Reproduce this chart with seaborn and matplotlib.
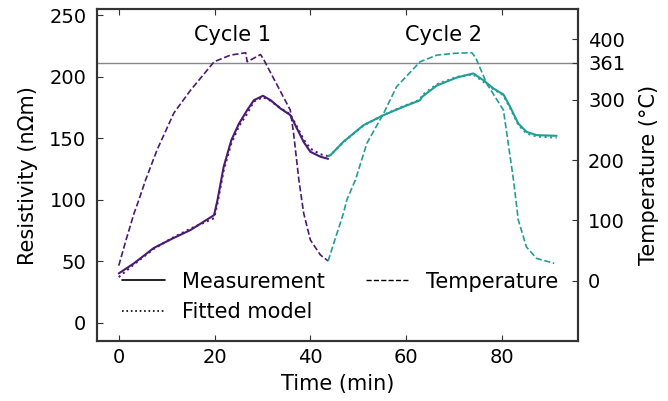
import numpy as np
import pandas as pd
import matplotlib
matplotlib.use("Agg")
import matplotlib.pyplot as plt
from matplotlib.lines import Line2D
import seaborn as sns

# cycle 1 (purple)
c1_t_meas = [0, 3.2, 7.3, 11, 15, 19.9, 20.6, 21.9, 23.5, 25.1, 26.8, 28.2, 30.1, 31.7, 33.75, 35.8, 37.2, 38.6, 40, 42.1, 43.7]
c1_r_meas = [40, 48.3, 60.7, 68, 75.4, 87.5, 99.6, 126.8, 148.5, 162, 172.9, 181, 184.6, 181, 174.3, 168.9, 158, 147, 139, 135, 133.3]
c1_r_fit = [37, 47.5, 60, 68.5, 76.5, 85, 97, 124, 146, 160, 170, 180, 183.5, 180.5, 174.5, 169.5, 159.5, 149, 141.5, 137, 135.5]
c1_t_temp = [0, 1.5, 3.2, 4.2, 5.6, 8, 11.5, 15, 19.9, 23.3, 26.5, 26.8, 29.6, 30.3, 35.8, 36.5, 37.6, 38.6, 40, 42.1, 43.7]
c1_temp = [25, 67, 112, 134, 167, 217, 278, 316, 363, 374, 378, 363, 375, 366, 283, 244, 167, 112, 67.5, 42.6, 32.7]

# cycle 2 (teal)
c2_t_meas = [43.7, 44.2, 46.9, 51.1, 55.3, 59, 62.9, 63.3, 66.4, 70.6, 74, 76.1, 78.2, 80.3, 81.7, 83.4, 85.1, 87.2, 91.4]
c2_r_meas = [135.5, 136.3, 147.2, 160.7, 168.9, 175, 181, 183.7, 193, 199.5, 202.8, 197.3, 190.6, 185.7, 175.6, 162, 155.3, 152.6, 152]
c2_r_fit = [135.5, 136.5, 147, 160.5, 169, 175.5, 181.5, 185, 194, 200, 202, 196, 190, 185, 174.5, 161, 154, 151.5, 150.5]
c2_t_temp = [43.7, 45, 46.9, 47.6, 49.4, 51.8, 55.3, 58, 62.9, 66.4, 70, 73.7, 74.5, 76.8, 80.3, 82.4, 83.4, 85.1, 87.2, 90.9]
c2_temp = [32.7, 65, 111.7, 134, 167, 228, 277.6, 321.7, 363, 374, 377, 378, 370, 327, 283, 167, 100.7, 56, 37, 28.8]

T_REF = 361
COR1 = "#4b1a72"
COR2 = "#1f9e96"
FS = 15

sns.set_style("ticks")
plt.rcParams["font.family"] = ["DejaVu Sans"]
plt.rcParams["font.size"] = FS
plt.rcParams["text.color"] = "black"
plt.rcParams["axes.labelcolor"] = "black"
plt.rcParams["xtick.labelcolor"] = "black"
plt.rcParams["ytick.labelcolor"] = "black"

fig = plt.figure(figsize=(6.68, 4.01), dpi=100)
ax = fig.add_axes([0.1448, 0.1496, 0.72, 0.8272])
ax2 = ax.twinx()

ax2.axhline(T_REF, color="#888888", lw=1, zorder=0)

for t, rm, rf, tt, temp, cor in [
    (c1_t_meas, c1_r_meas, c1_r_fit, c1_t_temp, c1_temp, COR1),
    (c2_t_meas, c2_r_meas, c2_r_fit, c2_t_temp, c2_temp, COR2),
]:
    sns.lineplot(x=t, y=rm, ax=ax, color=cor, lw=1.5, sort=False)
    sns.lineplot(x=t, y=rf, ax=ax, color=cor, lw=1.5, linestyle=":", sort=False)
    sns.lineplot(x=tt, y=temp, ax=ax2, color=cor, lw=1.2, linestyle="--", sort=False)

ax.set_xlim(-4.6, 95.8)
ax.set_ylim(-15, 255)
ax2.set_ylim(-100, 450)
ax.set_xticks([0, 20, 40, 60, 80])
ax.set_yticks([0, 50, 100, 150, 200, 250])
ax2.set_yticks([0, 100, 200, 300, T_REF, 400])

ax.set_xlabel("Time (min)", fontsize=FS, labelpad=5)
ax.set_ylabel("Resistivity (nΩm)", fontsize=FS, labelpad=8)
ax2.set_ylabel("Temperature (°C)", fontsize=FS, labelpad=10)

ax.tick_params(axis="x", direction="in", top=True, labelsize=14, length=4, color="#333333", pad=5)
ax.tick_params(axis="y", direction="in", labelsize=14, length=4, color="#333333", pad=7.5)
ax2.tick_params(axis="y", direction="in", labelsize=14, length=4, color="#333333", pad=7.5)
for a in (ax, ax2):
    for s in a.spines.values():
        s.set_color("#333333")
        s.set_linewidth(1.5)

ax.text(23.75, 234, "Cycle 1", ha="center", va="center", fontsize=FS)
ax.text(67.7, 234, "Cycle 2", ha="center", va="center", fontsize=FS)

handles = [
    Line2D([], [], color="black", lw=1.2, linestyle="-"),
    Line2D([], [], color="black", lw=1.2, linestyle=":"),
    Line2D([], [], color="black", lw=1.0, linestyle="--"),
]
ax.legend(handles, ["Measurement", "Fitted model", "Temperature"], ncol=2,
          frameon=False, loc="upper left", bbox_to_anchor=(0.013, 0.266),
          fontsize=FS, handlelength=2.07, columnspacing=2.0,
          labelspacing=0.52, handletextpad=0.8)

plt.savefig("out.png", dpi=100)
plt.close()
